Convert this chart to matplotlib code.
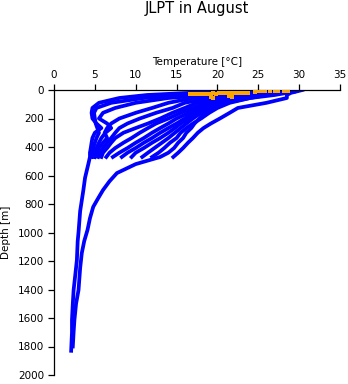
import matplotlib
matplotlib.use("Agg")
import matplotlib.pyplot as plt

# ---- data ----
shallow_depth = [0, 10, 20, 35, 56, 90, 126, 160, 200, 235, 267, 300, 337, 370, 407, 440, 470]
shallow_temps = [
    [27.0, 26.0, 22.0, 16.0, 11.0, 7.0, 5.2, 4.9, 5.0, 5.1, 5.3, 5.5, 5.2, 5.0, 4.8, 4.7, 4.6],
    [28.0, 27.0, 24.0, 19.0, 14.0, 10.0, 7.5, 6.0, 5.5, 6.5, 7.0, 6.3, 5.8, 5.5, 5.2, 5.0, 4.9],
    [28.5, 27.5, 25.0, 21.0, 17.0, 14.0, 12.0, 10.0, 8.0, 7.0, 6.5, 6.2, 6.5, 6.0, 5.5, 5.2, 5.0],
    [29.0, 28.0, 25.5, 22.0, 19.0, 16.0, 14.5, 12.5, 10.5, 9.0, 8.0, 7.5, 7.0, 6.5, 6.0, 5.6, 5.4],
    [29.0, 28.0, 26.0, 23.0, 20.0, 17.5, 16.0, 14.5, 13.0, 11.5, 10.0, 8.5, 7.5, 7.0, 6.5, 6.0, 5.8],
    [29.5, 28.5, 26.5, 23.5, 21.0, 18.5, 17.0, 15.5, 14.0, 12.5, 11.5, 10.5, 9.5, 8.5, 7.5, 6.8, 6.4],
    [29.5, 28.5, 27.0, 24.0, 21.5, 19.0, 17.5, 16.5, 15.0, 14.0, 13.0, 12.0, 11.0, 10.0, 9.0, 8.0, 7.2],
    [29.5, 29.0, 27.0, 24.5, 22.0, 19.5, 18.0, 17.0, 16.0, 15.0, 14.0, 13.0, 12.0, 11.0, 10.0, 9.0, 8.3],
    [30.0, 29.0, 27.5, 25.0, 22.5, 20.0, 18.5, 17.5, 16.5, 15.5, 14.8, 14.0, 13.0, 12.0, 11.0, 10.0, 9.5],
    [30.0, 29.0, 28.0, 25.5, 23.0, 20.5, 19.0, 18.0, 17.0, 16.2, 15.5, 14.8, 14.0, 13.2, 12.3, 11.5, 10.8],
    [30.0, 29.5, 28.0, 26.0, 24.0, 21.5, 20.0, 19.0, 18.0, 17.0, 16.2, 15.5, 15.0, 14.2, 13.5, 12.8, 12.0],
    [30.4, 29.7, 29.0, 28.5, 28.5, 26.0, 22.5, 21.5, 20.3, 19.2, 18.3, 17.6, 17.0, 16.4, 15.8, 15.2, 14.6],
]

deep1_depth = [0, 10, 20, 35, 56, 90, 126, 160, 200, 235, 267, 300, 337, 370, 407,
               440, 470, 520, 616, 700, 850, 1000, 1060, 1193, 1300, 1404, 1500,
               1614, 1700, 1830]
deep1_temp = [26.0, 24.0, 16.6, 11.4, 8.0, 5.5, 4.7, 4.6, 4.7, 5.2, 5.8, 5.0, 4.7,
              4.6, 4.5, 4.4, 4.4, 4.2, 3.8, 3.6, 3.2, 3.0, 2.9, 2.8, 2.6, 2.4, 2.3,
              2.2, 2.2, 2.1]

deep2_depth = [0, 10, 20, 35, 56, 90, 126, 160, 200, 235, 267, 300, 337, 370, 407,
               440, 470, 520, 583, 640, 702, 760, 820, 900, 982, 1060, 1145, 1250,
               1404, 1500, 1614, 1700, 1800]
deep2_temp = [30.0, 29.5, 28.5, 27.0, 24.0, 21.0, 19.5, 18.5, 17.8, 17.2, 16.8, 16.2,
              15.8, 15.2, 14.7, 14.0, 13.0, 10.0, 7.7, 6.8, 6.0, 5.4, 4.8, 4.4, 4.1,
              3.7, 3.4, 3.2, 3.0, 2.7, 2.5, 2.4, 2.3]

orange_temp = [16.6, 17.0, 17.4, 17.8, 18.2, 18.6, 19.0, 19.4, 19.8, 20.2, 20.6,
               21.0, 21.4, 21.8, 22.2, 22.6, 23.0, 23.4, 23.8,
               16.8, 17.6, 18.4, 19.2,
               24.6, 25.0, 25.4, 25.8, 26.4, 27.0, 27.4, 28.2, 28.6,
               19.2, 19.4, 21.4, 21.8]
orange_depth = [26, 27, 25, 27, 26, 25, 26, 24, 25, 24, 23,
                24, 22, 23, 21, 22, 20, 19, 18,
                30, 31, 30, 29,
                12, 8, 6, 10, 7, 6, 9, 5, 7,
                48, 55, 45, 50]

x_ticks = [0, 5, 10, 15, 20, 25, 30, 35]
y_ticks = [0, 200, 400, 600, 800, 1000, 1200, 1400, 1600, 1800, 2000]

# ---- plot ----
plt.rcParams['font.family'] = ['DejaVu Sans']
fig = plt.figure(figsize=(3.48, 3.84), dpi=100)
ax = fig.add_axes([54 / 348, 1 - 375 / 384, (340 - 54) / 348, (375 - 90) / 384])

blue = '#0000FF'
lw = 2.7
for temps in shallow_temps:
    ax.plot(temps, shallow_depth, color=blue, lw=lw)
ax.plot(deep1_temp, deep1_depth, color=blue, lw=lw)
ax.plot(deep2_temp, deep2_depth, color=blue, lw=lw)
ax.scatter(orange_temp, orange_depth, marker='s', s=8, color='#FFA500',
           linewidths=0, zorder=5)

ax.set_xlim(0, 35)
ax.set_ylim(2000, 0)
ax.set_xticks(x_ticks)
ax.set_yticks(y_ticks)
ax.xaxis.tick_top()
ax.xaxis.set_label_position('top')
ax.set_xlabel('Temperature [°C]', fontsize=7.5, labelpad=4)
ax.set_ylabel('Depth [m]', fontsize=7.5, labelpad=5)
ax.tick_params(axis='both', labelsize=7.5, length=4, width=0.9, direction='out', pad=3)
for s in ['bottom', 'right']:
    ax.spines[s].set_visible(False)
for s in ['top', 'left']:
    ax.spines[s].set_linewidth(0.9)
ax.patch.set_visible(False)

fig.text(197 / 348, 1 - 8 / 384, 'JLPT in August', ha='center', va='center', fontsize=10.5)

fig.savefig('out.png', dpi=100)
